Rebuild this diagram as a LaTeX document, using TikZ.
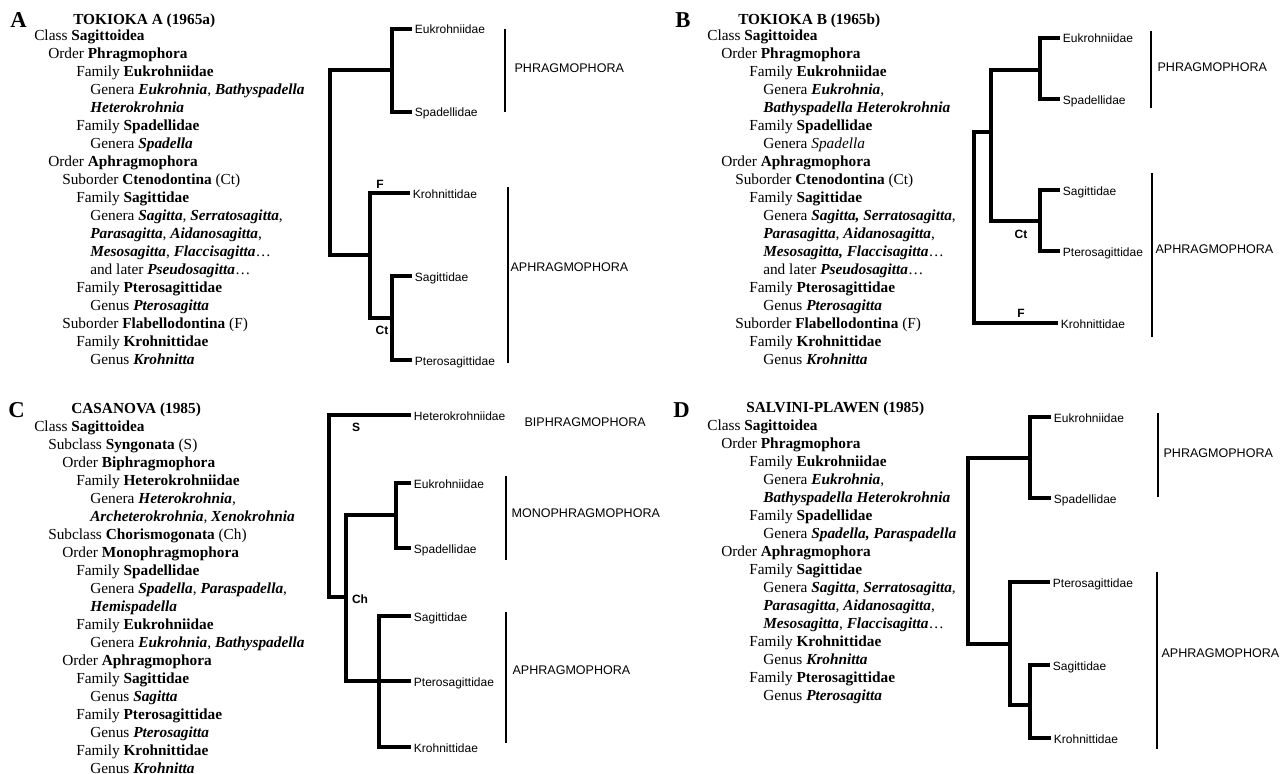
\documentclass[tikz,border=0pt]{standalone}
\usepackage{fontspec}
\setmainfont{Liberation Serif}
\setsansfont{Liberation Sans}
\newcommand{\bi}[1]{\textbf{\textit{#1}}}
\newlength{\lvstep}
\setlength{\lvstep}{10.5pt}
\newcommand{\lv}[1]{\hspace*{#1\lvstep}}

\begin{document}
\begin{tikzpicture}[
  x=0.75pt, y=-0.75pt,
  br/.style={line width=2.6pt},
  bar/.style={line width=2.2pt},
  thinbar/.style={line width=1.6pt},
  leaf/.style={anchor=west, inner sep=2pt, text height=8pt, text depth=0.5pt,
               font=\sffamily\fontsize{9}{10}\selectfont},
  grp/.style={anchor=west, inner sep=1pt, font=\sffamily\fontsize{9.4}{10}\selectfont},
  clade/.style={inner sep=0pt, font=\sffamily\bfseries\fontsize{9}{10}\selectfont},
  letter/.style={anchor=base west, inner sep=0pt, font=\bfseries\fontsize{17}{17}\selectfont},
  ttl/.style={anchor=base west, inner sep=0pt, font=\bfseries\fontsize{11.5}{13.5}\selectfont},
  blk/.style={anchor=base west, inner sep=0pt, align=left,
              font=\fontsize{11.5}{13.5}\selectfont},
]
\useasboundingbox (0,0) rectangle (1285,774);
\clip (0,0) rectangle (1285,774);

% Panel A: Tokioka A (blocks are placed by their last baseline)
\node[letter] (labA) at (10,28) {A};
\node[ttl] (ttlA) at (73,25) {TOKIOKA A (1965a)};
\node[blk] (txtA) at (34,364) {
  Class \textbf{Sagittoidea}\\
  \lv1Order \textbf{Phragmophora}\\
  \lv3Family \textbf{Eukrohniidae}\\
  \lv4Genera \bi{Eukrohnia}, \bi{Bathyspadella}\\
  \lv4\bi{Heterokrohnia}\\
  \lv3Family \textbf{Spadellidae}\\
  \lv4Genera \bi{Spadella}\\
  \lv1Order \textbf{Aphragmophora}\\
  \lv2Suborder \textbf{Ctenodontina} (Ct)\\
  \lv3Family \textbf{Sagittidae}\\
  \lv4Genera \bi{Sagitta}, \bi{Serratosagitta},\\
  \lv4\bi{Parasagitta}, \bi{Aidanosagitta},\\
  \lv4\bi{Mesosagitta}, \bi{Flaccisagitta}\ldots\\
  \lv4and later \bi{Pseudosagitta}\ldots\\
  \lv3Family \textbf{Pterosagittidae}\\
  \lv4Genus \bi{Pterosagitta}\\
  \lv2Suborder \textbf{Flabellodontina} (F)\\
  \lv3Family \textbf{Krohnittidae}\\
  \lv4Genus \bi{Krohnitta}
};
\node[leaf] (eukA) at (412,29) {Eukrohniidae};
\node[leaf] (spaA) at (412,112) {Spadellidae};
\node[leaf] (krA) at (410,193) {Krohnittidae};
\node[leaf] (sagA) at (412,276) {Sagittidae};
\node[leaf] (ptA) at (412,360) {Pterosagittidae};
\coordinate (jA1) at (392,70);
\coordinate (rA) at (330,160);
\coordinate (jA3) at (370,255);
\coordinate (jA4) at (392,318);
\draw[br] (eukA.west) -| (jA1) |- (spaA.west);
\draw[br] (jA1) -| (rA) |- (jA3);
\draw[br] (krA.west) -| (jA3) |- (jA4);
\draw[br] (sagA.west) -| (jA4) |- (ptA.west);
\node[clade] (fA) at (380,184) {F};
\node[clade] (ctA) at (382,330) {Ct};
\draw[bar] (505,29) -- (505,112);
\node[grp] (phA) at (513,68) {PHRAGMOPHORA};
\draw[thinbar] (508,187) -- (508,363);
\node[grp] (aphA) at (509,267) {APHRAGMOPHORA};

% Panel B: Tokioka B
\node[letter] (labB) at (675,28) {B};
\node[ttl] (ttlB) at (738,25) {TOKIOKA B (1965b)};
\node[blk] (txtB) at (707,364) {
  Class \textbf{Sagittoidea}\\
  \lv1Order \textbf{Phragmophora}\\
  \lv3Family \textbf{Eukrohniidae}\\
  \lv4Genera \bi{Eukrohnia},\\
  \lv4\bi{Bathyspadella Heterokrohnia}\\
  \lv3Family \textbf{Spadellidae}\\
  \lv4Genera \textit{Spadella}\\
  \lv1Order \textbf{Aphragmophora}\\
  \lv2Suborder \textbf{Ctenodontina} (Ct)\\
  \lv3Family \textbf{Sagittidae}\\
  \lv4Genera \bi{Sagitta, Serratosagitta},\\
  \lv4\bi{Parasagitta}, \bi{Aidanosagitta},\\
  \lv4\bi{Mesosagitta, Flaccisagitta}\ldots\\
  \lv4and later \bi{Pseudosagitta}\ldots\\
  \lv3Family \textbf{Pterosagittidae}\\
  \lv4Genus \bi{Pterosagitta}\\
  \lv2Suborder \textbf{Flabellodontina} (F)\\
  \lv3Family \textbf{Krohnittidae}\\
  \lv4Genus \bi{Krohnitta}
};
\node[leaf] (eukB) at (1060,38) {Eukrohniidae};
\node[leaf] (spaB) at (1060,99) {Spadellidae};
\node[leaf] (sagB) at (1060,190) {Sagittidae};
\node[leaf] (ptB) at (1060,251) {Pterosagittidae};
\node[leaf] (krB) at (1058,323) {Krohnittidae};
\coordinate (jB1) at (1040,70);
\coordinate (jB2) at (991,132);
\coordinate (jB3) at (1040,221);
\coordinate (rB) at (974,200);
\draw[br] (eukB.west) -| (jB1) |- (spaB.west);
\draw[br] (sagB.west) -| (jB3) |- (ptB.west);
\draw[br] (jB1) -| (jB2) |- (jB3);
\draw[br] (jB2) -| (rB) |- (krB.west);
\node[clade] (ctB) at (1021,234) {Ct};
\node[clade] (fB) at (1021,313) {F};
\draw[bar] (1151,31) -- (1151,108);
\node[grp] (phB) at (1156,67) {PHRAGMOPHORA};
\draw[thinbar] (1152,173) -- (1152,337);
\node[grp] (aphB) at (1154,249) {APHRAGMOPHORA};

% Panel C: Casanova
\node[letter] (labC) at (8,417) {C};
\node[ttl] (ttlC) at (71,413) {CASANOVA (1985)};
\node[blk] (txtC) at (34,773) {
  Class \textbf{Sagittoidea}\\
  \lv1Subclass \textbf{Syngonata} (S)\\
  \lv2Order \textbf{Biphragmophora}\\
  \lv3Family \textbf{Heterokrohniidae}\\
  \lv4Genera \bi{Heterokrohnia},\\
  \lv4\bi{Archeterokrohnia}, \bi{Xenokrohnia}\\
  \lv1Subclass \textbf{Chorismogonata} (Ch)\\
  \lv2Order \textbf{Monophragmophora}\\
  \lv3Family \textbf{Spadellidae}\\
  \lv4Genera \bi{Spadella}, \bi{Paraspadella},\\
  \lv4\bi{Hemispadella}\\
  \lv3Family \textbf{Eukrohniidae}\\
  \lv4Genera \bi{Eukrohnia}, \bi{Bathyspadella}\\
  \lv2Order \textbf{Aphragmophora}\\
  \lv3Family \textbf{Sagittidae}\\
  \lv4Genus \bi{Sagitta}\\
  \lv3Family \textbf{Pterosagittidae}\\
  \lv4Genus \bi{Pterosagitta}\\
  \lv3Family \textbf{Krohnittidae}\\
  \lv4Genus \bi{Krohnitta}
};
\node[leaf] (hetC) at (411,415) {Heterokrohniidae};
\node[leaf] (eukC) at (411,483) {Eukrohniidae};
\node[leaf] (spaC) at (411,548) {Spadellidae};
\node[leaf] (sagC) at (411,616) {Sagittidae};
\node[leaf] (ptC) at (411,681) {Pterosagittidae};
\node[leaf] (krC) at (411,747) {Krohnittidae};
\coordinate (rC) at (329,500);
\coordinate (jC1) at (346,597);
\coordinate (jC2) at (396,515);
\coordinate (jC3) at (379,681);
\draw[br] (hetC.west) -| (rC) |- (jC1);
\draw[br] (eukC.west) -| (jC2) |- (spaC.west);
\draw[br] (jC2) -| (jC1) |- (ptC.west);
\draw[br] (sagC.west) -| (jC3) |- (krC.west);
\node[clade] (sC) at (356,427) {S};
\node[clade] (chC) at (360,599) {Ch};
\node[grp] (biC) at (523,422) {BIPHRAGMOPHORA};
\draw[thinbar] (506,476) -- (506,560);
\node[grp] (monoC) at (510,513) {MONOPHRAGMOPHORA};
\draw[thinbar] (506,612) -- (506,743);
\node[grp] (aphC) at (511,670) {APHRAGMOPHORA};

% Panel D: Salvini-Plawen
\node[letter] (labD) at (673,417) {D};
\node[ttl] (ttlD) at (746,412) {SALVINI-PLAWEN (1985)};
\node[blk] (txtD) at (707,700) {
  Class \textbf{Sagittoidea}\\
  \lv1Order \textbf{Phragmophora}\\
  \lv3Family \textbf{Eukrohniidae}\\
  \lv4Genera \bi{Eukrohnia},\\
  \lv4\bi{Bathyspadella Heterokrohnia}\\
  \lv3Family \textbf{Spadellidae}\\
  \lv4Genera \bi{Spadella, Paraspadella}\\
  \lv1Order \textbf{Aphragmophora}\\
  \lv3Family \textbf{Sagittidae}\\
  \lv4Genera \bi{Sagitta}, \bi{Serratosagitta},\\
  \lv4\bi{Parasagitta}, \bi{Aidanosagitta},\\
  \lv4\bi{Mesosagitta}, \bi{Flaccisagitta}\ldots\\
  \lv3Family \textbf{Krohnittidae}\\
  \lv4Genus \bi{Krohnitta}\\
  \lv3Family \textbf{Pterosagittidae}\\
  \lv4Genus \bi{Pterosagitta}
};
\node[leaf] (eukD) at (1051,417) {Eukrohniidae};
\node[leaf] (spaD) at (1051,498) {Spadellidae};
\node[leaf] (ptD) at (1050,582) {Pterosagittidae};
\node[leaf] (sagD) at (1050,665) {Sagittidae};
\node[leaf] (krD) at (1051,738) {Krohnittidae};
\coordinate (jD1) at (1030,458);
\coordinate (rD) at (968,550);
\coordinate (jD2) at (1010,644);
\coordinate (jD3) at (1030,705);
\draw[br] (eukD.west) -| (jD1) |- (spaD.west);
\draw[br] (jD1) -| (rD) |- (jD2);
\draw[br] (ptD.west) -| (jD2) |- (jD3);
\draw[br] (sagD.west) -| (jD3) |- (krD.west);
\draw[bar] (1158,413) -- (1158,497);
\node[grp] (phD) at (1162,453) {PHRAGMOPHORA};
\draw[bar] (1157,572) -- (1157,749);
\node[grp] (aphD) at (1160,653) {APHRAGMOPHORA};
\end{tikzpicture}
\end{document}
